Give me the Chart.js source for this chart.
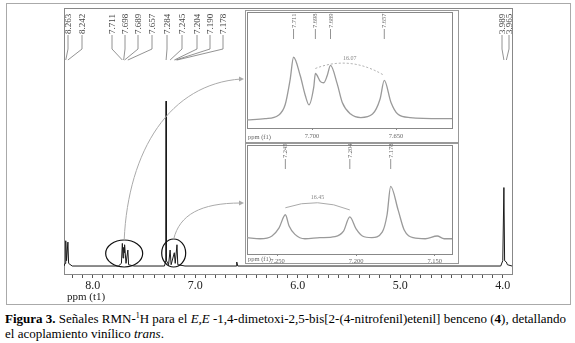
<!DOCTYPE html>
<html>
<head>
<meta charset="utf-8">
<script src="https://cdn.jsdelivr.net/npm/chart.js@4.4.1/dist/chart.umd.min.js"></script>
<style>
  body { margin: 0; background: #fff; width: 575px; height: 343px; position: relative; overflow: hidden; }
  #frame { position: absolute; left: 6px; top: 3px; width: 563px; height: 300px; border: 1px solid #aaa; }
  canvas { position: absolute; }
  #main { left: 0; top: 0; }
  #inset1 { left: 245px; top: 10px; }
  #inset2 { left: 245px; top: 143px; }
  #caption { position: absolute; left: 5px; top: 311px; font-family: "Liberation Serif", "Times New Roman", Tinos, "DejaVu Serif", serif; font-size: 13px; line-height: 15px; color: #000; white-space: nowrap; }
  #caption sup { font-size: 8px; line-height: 0; }
</style>
</head>
<body>
<div id="frame"></div>
<canvas id="main" width="575" height="305"></canvas>
<canvas id="inset1" width="214" height="133"></canvas>
<canvas id="inset2" width="214" height="121"></canvas>
<div id="caption"><b>Figura 3.</b> Señales RMN-<sup>1</sup>H para el <i>E,E</i> -1,4-dimetoxi-2,5-bis[2-(4-nitrofenil)etenil] benceno (<b>4</b>), detallando<br>el acoplamiento vinílico <i>trans</i>.</div>

<script>
// espectro completo (ppm, intensidad relativa)
const mainPpm = [8.28, 8.27, 8.263, 8.255, 8.242, 8.235, 8.20, 7.75, 7.72, 7.711, 7.704, 7.698, 7.693, 7.689, 7.675, 7.657, 7.65, 7.60,
  7.30, 7.287, 7.284, 7.281, 7.26, 7.245, 7.235, 7.204, 7.195, 7.178, 7.17, 7.10, 6.60, 6.595, 6.585, 4.02, 4.00, 3.989, 3.982, 3.965, 3.955, 3.91];
const mainInt = [3, 4, 12.5, 5, 12, 4, 3, 3, 4, 11.5, 6, 10, 8, 11, 4, 9, 3.5, 3,
  3, 5, 65, 5, 3.5, 9, 3.5, 8, 4, 11, 3.5, 3, 3, 4.5, 3, 3, 5, 32.5, 5, 4.5, 3.5, 3];
const mainPeakLabels = ["8.263", "8.242", "7.711", "7.698", "7.689", "7.657", "7.284", "7.245", "7.204", "7.190", "7.178", "3.989", "3.965"];
const mainPeakPpm = [8.263, 8.242, 7.711, 7.698, 7.689, 7.657, 7.284, 7.245, 7.204, 7.190, 7.178, 3.989, 3.965];
const mainTicks = [8.0, 7.0, 6.0, 5.0, 4.0];

// ampliacion 7.74 - 7.62
const inset1Ppm = [7.7387, 7.728, 7.720, 7.716, 7.713, 7.711, 7.707, 7.704, 7.7018, 7.699, 7.698, 7.695, 7.693, 7.691, 7.689,
  7.685, 7.682, 7.677, 7.671, 7.664, 7.6595, 7.657, 7.653, 7.649, 7.6417, 7.6167];
const inset1Int = [7, 8, 11, 20, 42, 61, 45, 28, 20, 35, 47, 40, 39, 45, 54,
  38, 22, 12, 9, 12, 25, 41, 22, 12, 9, 8];
const inset1Labels = ["7.711", "7.698", "7.689", "7.657"];
const inset1PeakPpm = [7.711, 7.698, 7.689, 7.657];
const inset1Ticks = [7.70, 7.65];
const inset1J = "16.07";

// ampliacion 7.27 - 7.14
const inset2Ppm = [7.2694, 7.2611, 7.2535, 7.249, 7.245, 7.2427, 7.2389, 7.2325, 7.223, 7.2134, 7.208, 7.204, 7.200, 7.196,
  7.190, 7.1834, 7.1803, 7.178, 7.1732, 7.1694, 7.1637, 7.156, 7.1484, 7.144, 7.139];
const inset2Int = [15, 14, 16.5, 24, 36, 26, 18, 14, 15, 16, 21, 34, 23, 16.5,
  15, 20, 36, 62, 40, 22, 15, 14, 16.5, 14, 14];
const inset2Labels = ["7.245", "7.204", "7.178"];
const inset2PeakPpm = [7.245, 7.204, 7.178];
const inset2Ticks = [7.25, 7.20, 7.15];
const inset2J = "16.45";

function toPoints(xs, ys) {
  return xs.map((x, i) => ({ x: x, y: ys[i] }));
}

function valueAt(xs, ys, x) {
  const i = xs.indexOf(x);
  return i >= 0 ? ys[i] : 0;
}

const serif = '"Liberation Serif", "Times New Roman", Tinos, "DejaVu Serif", serif';

// posiciones de las etiquetas verticales del espectro principal
const mainLabelX = [68, 82, 112, 125, 138, 152, 167, 182, 197, 210, 223, 502, 509];

const mainDecor = {
  id: "mainDecor",
  beforeDatasetsDraw(chart) {
    const ctx = chart.ctx;
    const a = chart.chartArea;
    ctx.save();
    ctx.strokeStyle = "#888";
    ctx.lineWidth = 1;
    ctx.strokeRect(a.left + 0.5, a.top + 0.5, a.right - a.left, a.bottom - a.top);
    ctx.restore();
  },
  afterDraw(chart) {
    const ctx = chart.ctx;
    const xs = chart.scales.x;
    const ys = chart.scales.y;
    ctx.save();

    // etiquetas y lineas guia
    ctx.font = "9px " + serif;
    ctx.fillStyle = "#444";
    ctx.strokeStyle = "#777";
    ctx.lineWidth = 0.8;
    mainPeakLabels.forEach((lab, i) => {
      const lx = mainLabelX[i];
      const px = xs.getPixelForValue(mainPeakPpm[i]);
      ctx.beginPath();
      ctx.moveTo(lx, 35);
      ctx.lineTo(lx, 49);
      ctx.lineTo(px, 60);
      ctx.stroke();
      ctx.save();
      ctx.translate(lx + 3, 34);
      ctx.rotate(-Math.PI / 2);
      ctx.textAlign = "left";
      ctx.textBaseline = "alphabetic";
      ctx.fillText(lab, 0, 0);
      ctx.restore();
    });

    // elipses alrededor de los grupos ampliados
    const circles = [
      { ppm: 7.693, val: 7.7, rx: 18.5, ry: 13.5 },
      { ppm: 7.21, val: 7.9, rx: 12, ry: 14 }
    ];
    ctx.strokeStyle = "#111";
    ctx.lineWidth = 1.2;
    const tops = circles.map((c) => {
      const cx = xs.getPixelForValue(c.ppm);
      const cy = ys.getPixelForValue(c.val);
      ctx.beginPath();
      ctx.ellipse(cx, cy, c.rx, c.ry, 0, 0, Math.PI * 2);
      ctx.stroke();
      return { x: cx, y: cy - c.ry };
    });

    // flechas hacia las ampliaciones
    ctx.strokeStyle = "#aaa";
    ctx.fillStyle = "#aaa";
    ctx.lineWidth = 1;
    const ends = [{ x: 244, y: 79 }, { x: 244, y: 203 }];
    const ctrl = [
      [{ x: tops[0].x + 4, y: 150 }, { x: 170, y: 84 }],
      [{ x: tops[1].x + 6, y: 215 }, { x: 200, y: 203 }]
    ];
    ends.forEach((e, i) => {
      const s = tops[i];
      const c = ctrl[i];
      ctx.beginPath();
      ctx.moveTo(s.x, s.y);
      ctx.bezierCurveTo(c[0].x, c[0].y, c[1].x, c[1].y, e.x - 3, e.y);
      ctx.stroke();
      ctx.beginPath();
      ctx.moveTo(e.x, e.y);
      ctx.lineTo(e.x - 5, e.y - 2.5);
      ctx.lineTo(e.x - 5, e.y + 2.5);
      ctx.closePath();
      ctx.fill();
    });

    // titulo del eje
    ctx.fillStyle = "#222";
    ctx.font = "11px " + serif;
    ctx.textAlign = "left";
    ctx.textBaseline = "middle";
    ctx.fillText("ppm (t1)", 67, 297);
    ctx.restore();
  }
};

new Chart(document.getElementById("main"), {
  type: "scatter",
  data: {
    datasets: [{
      data: toPoints(mainPpm, mainInt),
      showLine: true,
      borderColor: "#1a1a1a",
      borderWidth: 1,
      pointRadius: 0,
      tension: 0
    }]
  },
  plugins: [mainDecor],
  options: {
    responsive: false,
    animation: false,
    events: [],
    layout: { padding: { left: 64, right: 63, top: 8, bottom: 5 } },
    plugins: { legend: { display: false }, tooltip: { enabled: false } },
    scales: {
      x: {
        type: "linear",
        reverse: true,
        min: 3.91,
        max: 8.28,
        afterFit(scale) { scale.height = 26; },
        afterBuildTicks(scale) {
          const t = [];
          for (let i = 40; i <= 82; i++) t.push({ value: i / 10 });
          scale.ticks = t;
        },
        ticks: {
          autoSkip: false,
          maxRotation: 0,
          padding: 1,
          color: "#222",
          font: { family: serif, size: 12 },
          callback: (v) => (mainTicks.some((m) => Math.abs(m - v) < 1e-6) ? v.toFixed(1) : "")
        },
        grid: { display: true, drawOnChartArea: false, drawTicks: true, tickLength: 4, color: "#555" },
        border: { display: true, color: "#444" }
      },
      y: { display: false, min: 0, max: 100 }
    }
  }
});

function insetChart(id, ppm, ints, labels, peakPpm, ticks, jText, opt) {
  const canvas = document.getElementById(id);
  const decor = {
    id: id + "Decor",
    beforeDraw(chart) {
      const ctx = chart.ctx;
      ctx.save();
      ctx.fillStyle = "#fff";
      ctx.fillRect(0, 0, chart.width, chart.height);
      ctx.strokeStyle = "#999";
      ctx.lineWidth = 1;
      ctx.strokeRect(0.5, 0.5, chart.width - 1, chart.height - 1);
      const a = chart.chartArea;
      ctx.strokeStyle = "#888";
      ctx.strokeRect(a.left + 0.5, a.top + 0.5, a.right - a.left, a.bottom - a.top);
      ctx.restore();
    },
    afterDraw(chart) {
      const ctx = chart.ctx;
      const xs = chart.scales.x;
      const ys = chart.scales.y;
      ctx.save();
      ctx.font = "6.5px " + serif;
      ctx.fillStyle = "#666";
      ctx.strokeStyle = "#777";
      ctx.lineWidth = 0.8;
      peakPpm.forEach((p, i) => {
        const px = xs.getPixelForValue(p);
        ctx.beginPath();
        ctx.moveTo(px, opt.labelY + 1);
        ctx.lineTo(px, opt.labelY + 11);
        ctx.stroke();
        ctx.save();
        ctx.translate(px + 2, opt.labelY);
        ctx.rotate(-Math.PI / 2);
        ctx.textAlign = "left";
        ctx.fillText(labels[i], 0, 0);
        ctx.restore();
      });

      // acoplamiento J
      const p1 = opt.jPeaks[0];
      const p2 = opt.jPeaks[1];
      const x1 = xs.getPixelForValue(p1);
      const x2 = xs.getPixelForValue(p2);
      const y1 = ys.getPixelForValue(valueAt(ppm, ints, p1)) - opt.jGap;
      const y2 = ys.getPixelForValue(valueAt(ppm, ints, p2)) - opt.jGap;
      const apex = Math.min(y1, y2) - 5;
      const cy = 2 * apex - (y1 + y2) / 2;
      ctx.strokeStyle = "#aaa";
      ctx.lineWidth = 1;
      ctx.setLineDash(opt.jDash);
      ctx.beginPath();
      ctx.moveTo(x1, y1);
      ctx.quadraticCurveTo((x1 + x2) / 2, cy, x2, y2);
      ctx.stroke();
      ctx.setLineDash([]);
      ctx.fillStyle = "#888";
      ctx.font = "6px " + serif;
      ctx.textAlign = "center";
      ctx.textBaseline = "bottom";
      ctx.fillText(jText, (x1 + x2) / 2, apex - 2);

      ctx.fillStyle = "#666";
      ctx.font = "6.5px " + serif;
      ctx.textAlign = "left";
      ctx.textBaseline = "middle";
      ctx.fillText("ppm (f1)", 3, opt.axisTextY);
      ctx.restore();
    }
  };

  return new Chart(canvas, {
    type: "scatter",
    data: {
      datasets: [{
        data: toPoints(ppm, ints),
        showLine: true,
        borderColor: "#9a9a9a",
        borderWidth: 1.3,
        pointRadius: 0,
        cubicInterpolationMode: "monotone"
      }]
    },
    plugins: [decor],
    options: {
      responsive: false,
      animation: false,
      events: [],
      layout: { padding: { left: 2, right: 7, top: 2, bottom: 0 } },
      plugins: { legend: { display: false }, tooltip: { enabled: false } },
      scales: {
        x: {
          type: "linear",
          reverse: true,
          min: ppm[ppm.length - 1],
          max: ppm[0],
          afterFit(scale) { scale.height = opt.axisH; },
          afterBuildTicks(scale) { scale.ticks = ticks.map((v) => ({ value: v })); },
          ticks: {
            autoSkip: false,
            maxRotation: 0,
            padding: opt.tickPad,
            color: "#666",
            font: { family: serif, size: 6.5 },
            callback: (v) => v.toFixed(3)
          },
          grid: { display: true, drawOnChartArea: false, tickLength: 2, color: "#888" },
          border: { display: false }
        },
        y: { display: false, min: 0, max: 100 }
      }
    }
  });
}

insetChart("inset1", inset1Ppm, inset1Int, inset1Labels, inset1PeakPpm, inset1Ticks, inset1J,
  { labelY: 18, axisH: 15, tickPad: 2, axisTextY: 127, jPeaks: [7.698, 7.657], jGap: 5, jDash: [2, 2] });
insetChart("inset2", inset2Ppm, inset2Int, inset2Labels, inset2PeakPpm, inset2Ticks, inset2J,
  { labelY: 15, axisH: 10, tickPad: 1, axisTextY: 116, jPeaks: [7.245, 7.204], jGap: 7, jDash: [] });
</script>
</body>
</html>
